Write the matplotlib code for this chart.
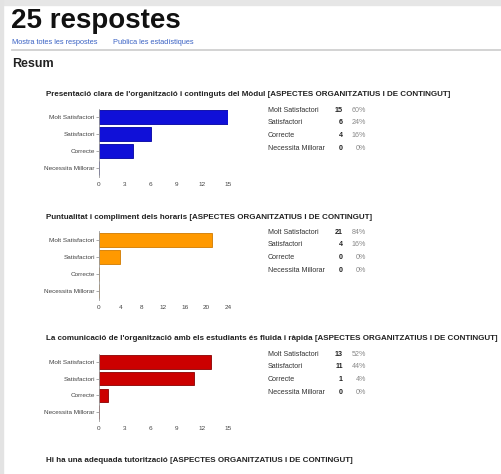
import matplotlib.pyplot as plt
from matplotlib.lines import Line2D
from matplotlib.patches import Rectangle

W, H = 502, 474

TOTAL = 25
CATEGORIES = ["Molt Satisfactori", "Satisfactori", "Correcte", "Necessita Millorar"]
QUESTIONS = [
    "Presentació clara de l'organització i continguts del Mòdul [ASPECTES ORGANITZATIUS I DE CONTINGUT]",
    "Puntualitat i compliment dels horaris [ASPECTES ORGANITZATIUS I DE CONTINGUT]",
    "La comunicació de l'organització amb els estudiants és fluida i ràpida [ASPECTES ORGANITZATIUS I DE CONTINGUT]",
    "Hi ha una adequada tutorització [ASPECTES ORGANITZATIUS I DE CONTINGUT]",
]
COUNTS_Q1 = [15, 6, 4, 0]
COUNTS_Q2 = [21, 4, 0, 0]
COUNTS_Q3 = [13, 11, 1, 0]
XMAX = [15, 24, 15]
XSTEP = [3, 4, 3]
COLORS = ["#1010d8", "#ff9900", "#cc0000"]
EDGES = ["#0000a0", "#d07a00", "#8a0000"]

FONT = ["Liberation Sans", "DejaVu Sans"]
plt.rcParams["font.family"] = FONT


def fx(x):
    return x / W


def fy(y):
    return 1 - y / H


fig = plt.figure(figsize=(W / 100, H / 100), dpi=100)

# page frame
fig.patches.append(Rectangle((0, fy(4.5)), 1, 4.5 / H, transform=fig.transFigure,
                             color="#e6e6e6", zorder=0))
fig.patches.append(Rectangle((0, 0), 3 / W, 1, transform=fig.transFigure,
                             color="#e3e3e3", zorder=0))
fig.lines.append(Line2D([fx(12), 1], [fy(50), fy(50)], transform=fig.transFigure,
                        color="#d0d0d0", lw=1.3))

fig.text(fx(11.5), fy(28), "25 respostes", fontsize=20, fontweight="bold",
         color="#111111", va="baseline")
fig.text(fx(12), fy(42), "Mostra totes les respostes", fontsize=5.3,
         color="#3a62c4", va="center")
fig.text(fx(113), fy(42), "Publica les estadístiques", fontsize=5.3,
         color="#3a62c4", va="center")
fig.text(fx(12), fy(64), "Resum", fontsize=9, fontweight="bold",
         color="#222222", va="center")

sections = [
    # title y, axes top, axes bottom, table first row, row step
    (94, 108.5, 176.5, 110, 12.7),
    (217, 231, 299.5, 232, 12.9),
    (339, 353.5, 420.5, 354, 12.7),
]
all_counts = [COUNTS_Q1, COUNTS_Q2, COUNTS_Q3]

for i, (ty, top, bottom, row0, step) in enumerate(sections):
    counts = all_counts[i]
    fig.text(fx(46), fy(ty), QUESTIONS[i], fontsize=5.8, fontweight="bold",
             color="#222222", va="center")

    ax = fig.add_axes([fx(99), fy(bottom), (228 - 99) / W, (bottom - top) / H])
    ypos = list(range(len(CATEGORIES)))
    ax.barh(ypos, counts, height=0.82, color=COLORS[i], edgecolor=EDGES[i], linewidth=0.6)
    ax.set_ylim(len(CATEGORIES) - 0.5, -0.5)
    ax.set_xlim(0, XMAX[i])
    ax.set_yticks(ypos)
    ax.set_yticklabels(CATEGORIES, fontsize=4.6, color="#444444")
    ax.set_xticks(list(range(0, XMAX[i] + 1, XSTEP[i])))
    ax.tick_params(axis="x", length=0, labelsize=4.6, labelcolor="#444444", pad=4)
    ax.tick_params(axis="y", length=2, width=0.5, color="#888888", pad=1)
    for side in ["top", "right", "bottom"]:
        ax.spines[side].set_visible(False)
    ax.spines["left"].set_color("#999999")
    ax.spines["left"].set_linewidth(0.6)

    for k, (cat, n) in enumerate(zip(CATEGORIES, counts)):
        ry = fy(row0 + k * step)
        fig.text(fx(268), ry, cat, fontsize=5.1, color="#333333", va="center")
        fig.text(fx(343), ry, str(n), fontsize=5.1, fontweight="bold",
                 color="#222222", va="center", ha="right")
        fig.text(fx(366), ry, f"{round(100 * n / TOTAL)}%", fontsize=5.1,
                 color="#888888", va="center", ha="right")

fig.text(fx(46), fy(461), QUESTIONS[3], fontsize=5.8, fontweight="bold",
         color="#222222", va="center")

fig.savefig("out.png", dpi=100)
